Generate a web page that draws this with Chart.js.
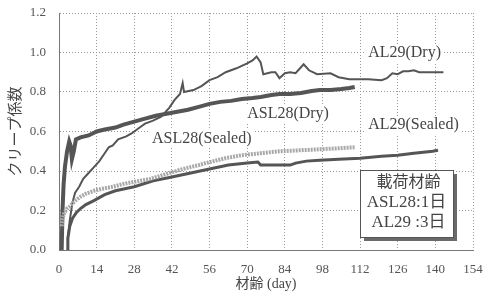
<!DOCTYPE html>
<html>
<head>
<meta charset="utf-8">
<script src="https://cdn.jsdelivr.net/npm/chart.js@4.4.0/dist/chart.umd.min.js"></script>
<style>
  html, body { margin: 0; padding: 0; background: #fff; }
  #wrap { width: 483px; height: 296px; }
</style>
</head>
<body>
<div id="wrap"><canvas id="grafico"></canvas></div>
<script>
// [材齢(日), クリープ係数]
const asl28Dry = [[1,0],[1.3,0.2],[1.7,0.33],[2.2,0.42],[3,0.5],[3.8,0.55],[4.3,0.53],[4.8,0.46],[5.5,0.5],[6.3,0.56],[8,0.57],[11,0.58],[14,0.6],[17,0.61],[21,0.62],[24,0.635],[28,0.65],[32,0.665],[36,0.68],[40,0.69],[44,0.7],[48,0.71],[52,0.725],[56,0.74],[60,0.75],[64,0.755],[68,0.765],[72,0.77],[75,0.775],[79,0.785],[82,0.79],[86,0.79],[90,0.795],[94,0.805],[97,0.81],[101,0.81],[105,0.815],[108,0.82],[110,0.825]];
const asl28Sealed = [[1,0.12],[1.3,0.16],[2,0.19],[3,0.21],[4,0.22],[6,0.25],[8,0.27],[10,0.285],[13,0.3],[16,0.31],[20,0.32],[24,0.335],[28,0.345],[34,0.36],[40,0.385],[46,0.41],[52,0.43],[56,0.445],[62,0.465],[68,0.48],[75,0.49],[82,0.5],[90,0.505],[97,0.51],[104,0.515],[110,0.52]];
const al29Dry = [[3,0],[3.3,0.06],[4,0.15],[5,0.24],[6,0.29],[7.5,0.32],[9,0.36],[11,0.39],[13,0.42],[15,0.45],[17,0.49],[18.5,0.52],[20,0.53],[22,0.56],[25,0.575],[27,0.59],[30,0.62],[32,0.64],[35,0.655],[38,0.675],[41,0.72],[43,0.76],[45,0.79],[46,0.845],[46.5,0.8],[50,0.81],[53,0.83],[56,0.86],[59,0.875],[62,0.9],[66,0.92],[70,0.945],[72,0.96],[73.5,0.98],[75,0.95],[76,0.89],[79,0.9],[80.5,0.9],[82,0.87],[84,0.895],[86,0.9],[88,0.895],[91,0.94],[93,0.91],[96,0.89],[101,0.895],[104,0.875],[108,0.865],[115,0.865],[120,0.86],[122,0.87],[124,0.895],[126,0.89],[128,0.905],[130,0.905],[132,0.91],[134,0.9],[138,0.9],[143,0.9]];
const al29Sealed = [[3,0],[3.3,0.06],[4,0.12],[5,0.16],[6.5,0.19],[8,0.21],[10,0.23],[13,0.25],[17,0.28],[21,0.3],[28,0.32],[35,0.35],[42,0.37],[49,0.39],[56,0.41],[63,0.43],[70,0.44],[74,0.445],[75,0.43],[80,0.43],[86,0.43],[88,0.44],[92,0.45],[97,0.455],[104,0.46],[112,0.465],[120,0.475],[126,0.48],[132,0.49],[139,0.5],[141,0.505]];

const xTicks = [0, 14, 28, 42, 56, 70, 84, 98, 112, 126, 140, 154];
const yTicks = [0, 0.2, 0.4, 0.6, 0.8, 1.0, 1.2];

// ラベル [テキスト, 材齢, 係数] (左端・中心)
const seriesLabels = [
  ['AL29(Dry)', 115, 0.997],
  ['ASL28(Dry)', 70, 0.689],
  ['AL29(Sealed)', 115, 0.633],
  ['ASL28(Sealed)', 34.6, 0.562]
];
const boxLines = ['載荷材齢', 'ASL28:1日', 'AL29 :3日'];

const SERIF = "'Liberation Serif', 'Noto Sans CJK JP', serif";

const labelPlugin = {
  id: 'labels',
  afterDatasetsDraw(chart) {
    const { ctx, scales: { x, y } } = chart;
    ctx.save();
    ctx.font = '16px ' + SERIF;
    ctx.textBaseline = 'middle';
    ctx.textAlign = 'left';
    seriesLabels.forEach(([t, d, v]) => {
      const px = x.getPixelForValue(d), py = y.getPixelForValue(v);
      const w = ctx.measureText(t).width;
      ctx.fillStyle = '#fff';
      ctx.fillRect(px - 2, py - 9, w + 4, 18);
      ctx.fillStyle = '#444';
      ctx.fillText(t, px, py);
    });

    // 載荷材齢の枠
    const bx = 360, by = 170, bw = 93, bh = 67;
    ctx.fillStyle = '#6a6a6a';
    ctx.fillRect(bx + 4, by + 4, bw, bh);
    ctx.fillStyle = '#fff';
    ctx.fillRect(bx, by, bw, bh);
    ctx.strokeStyle = '#555';
    ctx.lineWidth = 1;
    ctx.strokeRect(bx + 0.5, by + 0.5, bw, bh);
    ctx.fillStyle = '#444';
    ctx.textAlign = 'center';
    ctx.font = '16px ' + SERIF;
    ctx.fillText(boxLines[0], bx + bw / 2 + 2, by + 13);
    ctx.font = '17px ' + SERIF;
    ctx.fillText(boxLines[1], bx + bw / 2, by + 33);
    ctx.fillText(boxLines[2], bx + bw / 2 + 2, by + 53);
    ctx.restore();
  }
};

function serie(data, color, width, dash) {
  return { data, borderColor: color, borderWidth: width, borderDash: dash || [], pointRadius: 0, fill: false, tension: 0 };
}

new Chart(document.getElementById('grafico').getContext('2d'), {
  type: 'line',
  data: {
    datasets: [
      serie(asl28Sealed, '#a8a8a8', 4, [2, 1]),
      serie(al29Sealed, '#555', 3),
      serie(asl28Dry, '#555', 4),
      serie(al29Dry, '#555', 2)
    ]
  },
  options: {
    responsive: true,
    maintainAspectRatio: false,
    animation: false,
    layout: { padding: { top: 13, right: 10, left: 0, bottom: 0 } },
    plugins: { legend: { display: false }, tooltip: { enabled: false } },
    scales: {
      x: {
        type: 'linear', min: 0, max: 154,
        afterBuildTicks: s => { s.ticks = xTicks.map(v => ({ value: v })); },
        afterFit: s => { s.height = 46; s.paddingLeft = 0; s.paddingRight = 0; },
        ticks: { color: '#555', font: { family: SERIF, size: 13 }, padding: 12 },
        grid: { color: '#999', drawTicks: false },
        border: { color: '#777', width: 1, dash: [1, 2] },
        title: { display: true, text: '材齢 (day)', color: '#444', font: { family: SERIF, size: 14 }, padding: { top: 0, bottom: 3 } }
      },
      y: {
        min: 0, max: 1.2,
        afterBuildTicks: s => { s.ticks = yTicks.map(v => ({ value: v })); },
        afterFit: s => { s.width = 59; s.paddingTop = 0; s.paddingBottom = 0; },
        ticks: { color: '#555', font: { family: SERIF, size: 13 }, padding: 13, callback: v => v.toFixed(1) },
        grid: { color: '#999', drawTicks: false },
        border: { color: '#777', width: 1, dash: [1, 2] },
        title: { display: true, text: 'クリープ係数', color: '#444', font: { family: SERIF, size: 15 }, padding: { top: 7, bottom: 0 } }
      }
    }
  },
  plugins: [labelPlugin]
});
</script>
</body>
</html>
